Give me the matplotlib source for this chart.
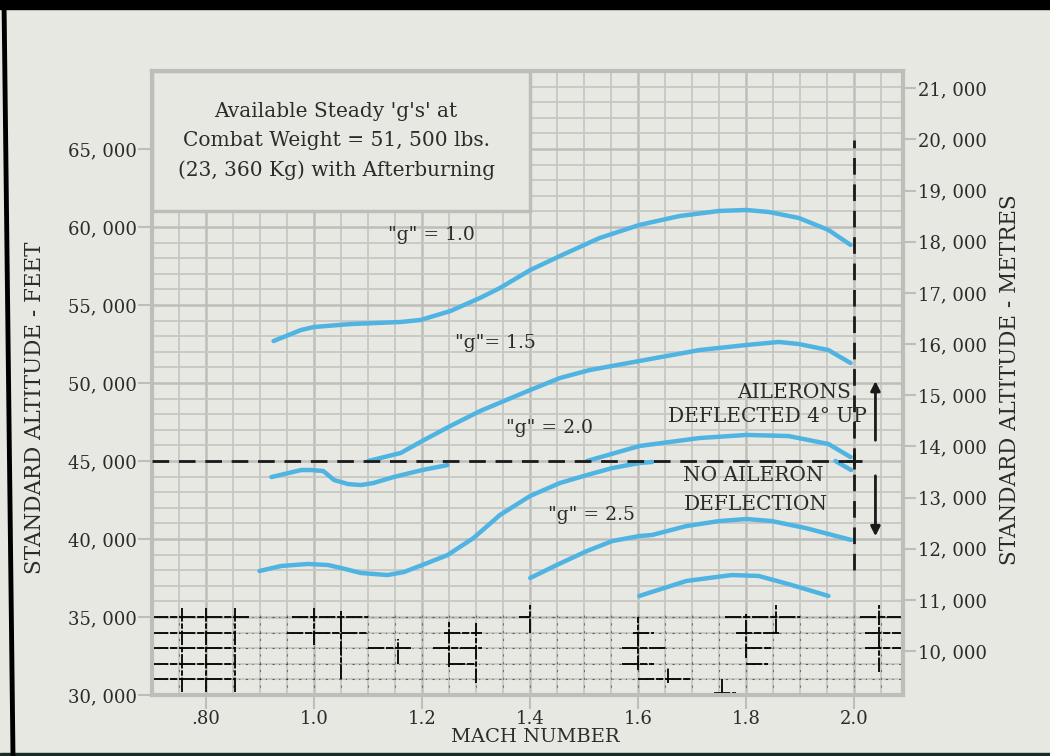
import numpy as np
import matplotlib.pyplot as plt
from matplotlib.patches import Rectangle
from matplotlib.lines import Line2D

# curves (Mach number, altitude in feet)
g10_mach = [0.925, 0.976, 1.0, 1.068, 1.16, 1.197, 1.252, 1.307, 1.344, 1.40, 1.455,
            1.528, 1.602, 1.676, 1.75, 1.8, 1.842, 1.897, 1.952, 1.993]
g10_alt = [52690, 53400, 53590, 53780, 53910, 54040, 54610, 55450, 56090, 57240, 58140,
           59290, 60130, 60700, 61030, 61090, 60960, 60580, 59810, 58850]

g15_mach = [1.10, 1.16, 1.20, 1.252, 1.307, 1.40, 1.455, 1.51, 1.602, 1.713, 1.8,
            1.86, 1.897, 1.952, 1.993]
g15_alt = [45000, 45510, 46280, 47240, 48200, 49550, 50320, 50830, 51410, 52110, 52435,
           52630, 52500, 52110, 51280]

g20_up_mach = [1.505, 1.602, 1.713, 1.8, 1.878, 1.952, 1.993]
g20_up_alt = [45000, 45960, 46470, 46670, 46600, 46090, 45250]

g20_low_mach = [0.921, 0.976, 0.994, 1.017, 1.037, 1.063, 1.087, 1.11, 1.147, 1.2, 1.247]
g20_low_alt = [43970, 44420, 44420, 44360, 43780, 43520, 43460, 43590, 43970, 44420, 44740]

g20_tail_mach = [1.965, 1.994]
g20_tail_alt = [45000, 44420]

g25_mach = [0.899, 0.939, 0.989, 1.026, 1.05, 1.087, 1.136, 1.166, 1.2, 1.247, 1.295,
            1.344, 1.4, 1.455, 1.505, 1.552, 1.602, 1.626]
g25_alt = [37950, 38270, 38400, 38330, 38140, 37820, 37690, 37880, 38330, 38970, 40060,
           41540, 42760, 43590, 44100, 44550, 44870, 44940]

g25b_mach = [1.4, 1.449, 1.505, 1.552, 1.602, 1.626, 1.689, 1.75, 1.8, 1.847, 1.91, 1.994]
g25b_alt = [37500, 38330, 39230, 39870, 40190, 40260, 40830, 41150, 41280, 41150, 40700, 39940]

g30_mach = [1.602, 1.689, 1.773, 1.823, 1.884, 1.952]
g30_alt = [36350, 37310, 37690, 37630, 37050, 36350]

curves = [(g10_mach, g10_alt), (g15_mach, g15_alt), (g20_up_mach, g20_up_alt),
          (g20_low_mach, g20_low_alt), (g20_tail_mach, g20_tail_alt),
          (g25_mach, g25_alt), (g25b_mach, g25b_alt), (g30_mach, g30_alt)]

curve_labels = ['"g" = 1.0', '"g"= 1.5', '"g" = 2.0', '"g" = 2.5']
curve_label_mach = [1.217, 1.335, 1.436, 1.514]
curve_label_alt = [59490, 52560, 47110, 41540]

feet_ticks = [30000, 35000, 40000, 45000, 50000, 55000, 60000, 65000]
feet_labels = ['30, 000', '35, 000', '40, 000', '45, 000', '50, 000', '55, 000', '60, 000', '65, 000']
metre_ticks = [10000, 11000, 12000, 13000, 14000, 15000, 16000, 17000, 18000, 19000, 20000, 21000]
metre_labels = ['10, 000', '11, 000', '12, 000', '13, 000', '14, 000', '15, 000', '16, 000',
                '17, 000', '18, 000', '19, 000', '20, 000', '21, 000']
mach_ticks = [0.8, 1.0, 1.2, 1.4, 1.6, 1.8, 2.0]
mach_labels = ['.80', '1.0', '1.2', '1.4', '1.6', '1.8', '2.0']

limit_alt = 45000
limit_mach = 2.0

# black bits of the badly scanned lower grid: (alt, mach from, mach to) / (mach, alt from, alt to)
scan_rows = [31000, 32000, 33000, 34000, 35000]
scan_h = [(35000, 0.70, 0.88), (34000, 0.70, 0.853), (33000, 0.70, 0.853), (32000, 0.70, 0.853),
          (31000, 0.70, 0.853), (35000, 0.96, 1.10), (34000, 0.95, 1.10), (33000, 1.10, 1.18),
          (34000, 1.24, 1.31), (33000, 1.22, 1.31), (32000, 1.25, 1.30), (35000, 1.38, 1.40),
          (34000, 1.59, 1.63), (33000, 1.57, 1.65), (32000, 1.57, 1.63), (31000, 1.60, 1.70),
          (30150, 1.74, 1.78), (35000, 1.76, 1.90), (34000, 1.78, 1.86), (33000, 1.80, 1.85),
          (32000, 1.80, 1.84), (35000, 2.01, 2.09), (34000, 2.02, 2.09), (33000, 2.02, 2.09)]
scan_v = [(0.70, 30000, 35500), (0.755, 30200, 35600), (0.80, 30200, 35600), (0.853, 30200, 35600),
          (1.0, 33200, 35600), (1.05, 31000, 35400), (1.155, 32000, 33600), (1.25, 31800, 34800),
          (1.30, 30800, 34600), (1.40, 34000, 35800), (1.60, 31600, 35000), (1.655, 30800, 31800),
          (1.755, 30100, 31000), (1.80, 32400, 35200), (1.855, 34000, 35800), (2.045, 31500, 35800),
          (2.09, 33000, 35800)]

bg = '#e7e8e2'
grid_col = '#c6c7c2'
frame_col = '#bdbeb9'
blue = '#50b4e2'
ink = '#2b2b2b'
serif = 'DejaVu Serif'

fig = plt.figure(figsize=(10.5, 7.56), dpi=100)
fig.patch.set_facecolor(bg)
ax = fig.add_axes([152/1050, 1 - 695/756, (903 - 152)/1050, (695 - 71)/756])
ax.set_facecolor(bg)
ax.set_xlim(0.7, 2.09)
ax.set_ylim(30000, 70000)

ax.set_xticks(mach_ticks, mach_labels)
ax.set_xticks(np.arange(0.7, 2.09, 0.05), minor=True)
ax.set_yticks(feet_ticks, feet_labels)
ax.set_yticks(np.arange(30000, 70001, 1000), minor=True)
ax.grid(which='minor', color=grid_col, lw=1.3, zorder=0)
ax.grid(which='major', color=frame_col, lw=1.8, zorder=0)
ax.set_axisbelow(True)
for s in ax.spines.values():
    s.set_color(frame_col)
    s.set_linewidth(3)
ax.tick_params(which='major', length=10, width=1.5, color=frame_col, labelsize=13,
               labelcolor=ink, pad=1)
ax.tick_params(which='minor', length=0)
for lab in ax.get_xticklabels() + ax.get_yticklabels():
    lab.set_family(serif)

sec = ax.secondary_yaxis('right', functions=(lambda f: f * 0.3048, lambda m: m / 0.3048))
sec.set_yticks(metre_ticks, metre_labels)
sec.spines['right'].set_visible(False)
sec.tick_params(length=9, width=1.5, color=frame_col, labelsize=13, labelcolor=ink, pad=2)
for lab in sec.get_yticklabels():
    lab.set_family(serif)

# scan noise in the lower band
for y in scan_rows:
    ax.hlines(y, 0.7, 2.09, color='black', lw=0.8, ls=(0, (2, 4, 1, 5)), alpha=0.55, zorder=1)
for x in np.arange(0.7, 2.1, 0.05):
    ax.vlines(x, 30000, 35300, color='black', lw=0.8, ls=(0, (2, 5)), alpha=0.45, zorder=1)
for y, x0, x1 in scan_h:
    ax.hlines(y, x0, x1, color='black', lw=1.3, ls=(0, (9, 1, 4, 1)), zorder=1)
for x, y0, y1 in scan_v:
    ax.vlines(x, y0, y1, color='black', lw=1.3, ls=(0, (8, 1, 3, 1)), zorder=1)

# title box
ax.add_patch(Rectangle((0.7, 61000), 0.7, 9000, facecolor=bg, edgecolor=frame_col, lw=2.5, zorder=2))
ax.text(1.041, 65500, "Available Steady 'g's' at\nCombat Weight = 51, 500 lbs.\n(23, 360 Kg) with Afterburning",
        ha='center', va='center', fontsize=14.5, family=serif, color=ink, linespacing=1.65, zorder=3)

for xs, ys in curves:
    ax.plot(xs, ys, color=blue, lw=3.2, solid_capstyle='round', solid_joinstyle='round', zorder=4)

for txt, x, y in zip(curve_labels, curve_label_mach, curve_label_alt):
    ax.text(x, y, txt, ha='center', va='center', fontsize=13.5, family=serif, color=ink, zorder=5)

ax.hlines(limit_alt, 0.7, 2.01, color='#1a1a1a', lw=2, ls=(0, (6, 3.5)), zorder=5)
ax.vlines(limit_mach, 38000, 65600, color='#1a1a1a', lw=2, ls=(0, (6, 3.5)), zorder=5)
ax.plot([limit_mach], [limit_alt], marker='+', ms=12, mew=2, color='#1a1a1a', zorder=5)

ax.annotate('', xy=(2.039, 50300), xytext=(2.039, 46150),
            arrowprops=dict(arrowstyle='-|>', color='#1a1a1a', lw=2, mutation_scale=14), zorder=5)
ax.annotate('', xy=(2.039, 40000), xytext=(2.039, 44230),
            arrowprops=dict(arrowstyle='-|>', color='#1a1a1a', lw=2, mutation_scale=14), zorder=5)

ax.text(1.994, 49360, 'AILERONS', ha='right', va='center', fontsize=14.5, family=serif, color=ink, zorder=5)
ax.text(2.024, 47880, 'DEFLECTED 4° UP', ha='right', va='center', fontsize=14.5, family=serif, color=ink, zorder=5)
ax.text(1.812, 44040, 'NO AILERON', ha='center', va='center', fontsize=14.5, family=serif, color=ink, zorder=5)
ax.text(1.818, 42240, 'DEFLECTION', ha='center', va='center', fontsize=14.5, family=serif, color=ink, zorder=5)

fig.text(535/1050, 1 - 737/756, 'MACH NUMBER', ha='center', va='center', fontsize=14,
         family=serif, color=ink)
fig.text(35/1050, 1 - 408/756, 'STANDARD ALTITUDE - FEET', ha='center', va='center', fontsize=15.5,
         family=serif, color=ink, rotation=90)
fig.text(1010/1050, 1 - 380/756, 'STANDARD ALTITUDE - METRES', ha='center', va='center', fontsize=15.5,
         family=serif, color=ink, rotation=90)

# dark scanner edges
fig.patches.append(Rectangle((0, 1 - 9/756), 1, 9/756, transform=fig.transFigure, color='black'))
fig.patches.append(Rectangle((0, 0), 1, 3/756, transform=fig.transFigure, color='#1b2a24'))
fig.lines.append(Line2D([4/1050, 13/1050], [1, 0], transform=fig.transFigure, color='black', lw=3.5))

fig.savefig('out.png', dpi=100, facecolor=bg)
